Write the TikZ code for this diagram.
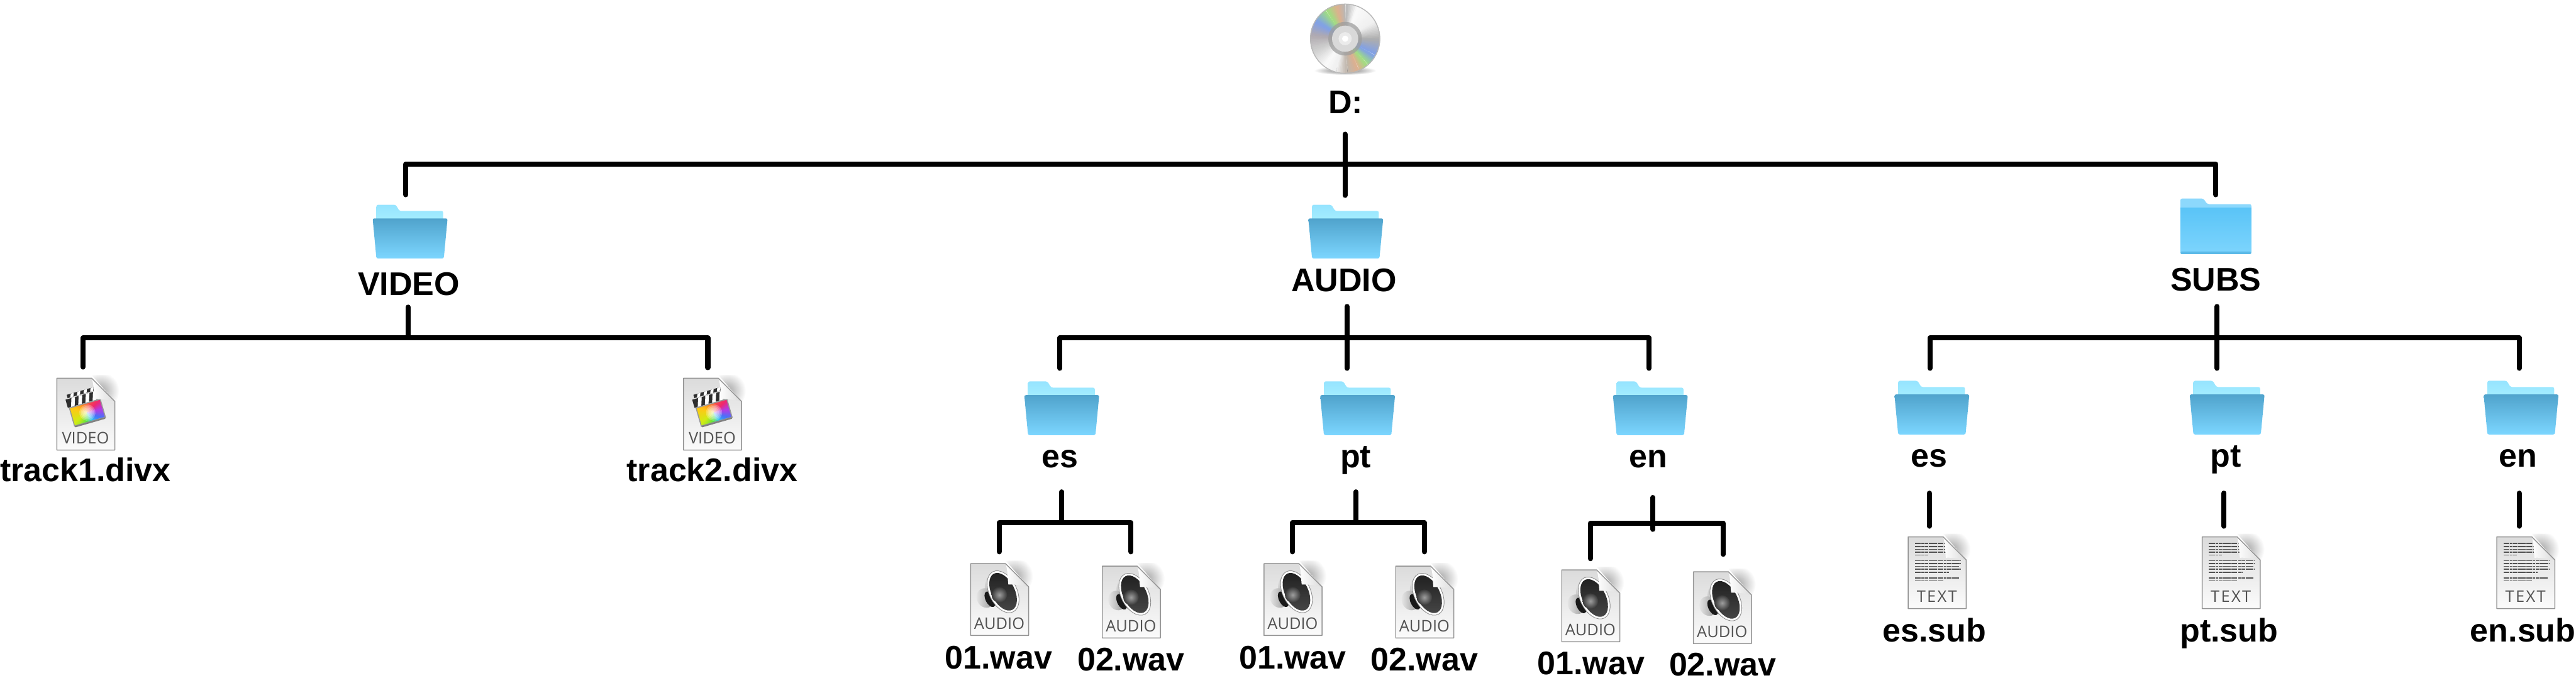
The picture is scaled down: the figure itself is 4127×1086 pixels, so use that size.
\documentclass[tikz,border=0pt]{standalone}
\usepackage{fontspec}
\setmainfont{Liberation Sans}
\newfontfamily\tagfont{Open Sans}
\definecolor{cdA}{gray}{.68}
\definecolor{cdB}{gray}{.94}
\definecolor{cdC}{gray}{.98}
\definecolor{cdD}{gray}{.72}
\definecolor{cdE}{RGB}{222,176,142}
\definecolor{cdF}{RGB}{160,222,130}
\definecolor{cdG}{RGB}{128,160,232}
\definecolor{cdH}{RGB}{176,170,176}
\definecolor{cdI}{gray}{.80}
\definecolor{cdJ}{RGB}{192,182,172}
\definecolor{rbA}{RGB}{178,60,230}
\definecolor{rbB}{RGB}{240,40,110}
\definecolor{rbC}{RGB}{252,105,40}
\definecolor{rbD}{RGB}{255,200,20}
\definecolor{rbE}{RGB}{210,235,20}
\definecolor{rbF}{RGB}{80,225,70}
\definecolor{rbG}{RGB}{50,195,240}
\definecolor{rbH}{RGB}{70,115,250}
\definecolor{pagetop}{gray}{.86}
\definecolor{pagebot}{gray}{.985}
\definecolor{pageline}{gray}{.58}
\definecolor{fbackA}{RGB}{150,228,255}
\definecolor{fbackB}{RGB}{165,238,255}
\definecolor{ffrontA}{RGB}{80,163,204}
\definecolor{ffrontB}{RGB}{124,214,255}
\definecolor{flatA}{RGB}{90,196,247}
\definecolor{flatB}{RGB}{124,212,253}
\definecolor{flatC}{RGB}{140,216,252}
\definecolor{flatD}{RGB}{92,186,232}
\tikzset{
  wire/.style={line width=2.3pt,line cap=round,line join=round,black},
  lbl/.style={anchor=base,inner sep=0pt,font=\bfseries\fontsize{14.9}{18}\selectfont},
  tagtext/.style={anchor=base,inner sep=0pt,text=black!68,font=\tagfont\fontsize{7.3}{8}\selectfont},
  iconbox/.style={inner sep=0pt,minimum width=1.1cm,minimum height=1.1cm},
  docline/.style={line width=.45pt,black!68,dash pattern=on 2.6pt off .3pt on 1.2pt off .3pt on 1.7pt off .3pt on 3.6pt off .3pt}
}
% conic colour sweep around the current origin
\newcommand{\sweep}[2]{%
  \foreach \aa/\ab/\ca/\cb in {#2}{%
    \pgfmathtruncatemacro\nn{(\ab-\aa)/3}%
    \foreach \ii in {1,...,\nn}{%
      \pgfmathsetmacro\sa{\aa+(\ii-1)*3}%
      \pgfmathsetmacro\sb{min(\sa+3.5,\ab)}%
      \pgfmathtruncatemacro\pct{100*(\ii-.5)/\nn}%
      \colorlet{sweepc}{\cb!\pct!\ca}%
      \filldraw[sweepc,line width=.25pt] (0,0) -- (\sa:#1) arc[start angle=\sa,end angle=\sb,radius=#1] -- cycle;
    }%
  }%
}
\newcommand{\clapper}{%
  \begin{scope}[shift={(49,55)},rotate=16]
    \begin{scope}
      \clip (-24,-36.5) rectangle (22,-31);
      \fill[black!82] (-24,-37) rectangle (22,-30);
      \foreach \s in {-17,-6,5,16}{\fill[white] (\s,-37) -- (\s+5,-37) -- (\s+2,-30) -- (\s-3,-30) -- cycle;}
    \end{scope}
    \begin{scope}
      \clip (-28,-29.5) rectangle (22,-16);
      \fill[black!82] (-28,-30) rectangle (22,-15);
      \foreach \s in {-18,-6,6,18}{\fill[white] (\s,-30) -- (\s+6,-30) -- (\s+1,-15) -- (\s-5,-15) -- cycle;}
    \end{scope}
    \begin{scope}
      \clip (-25.7,-15) rectangle (25.7,15);
      \sweep{.36cm}{0/30/rbA/rbB,30/90/rbB/rbC,90/150/rbC/rbD,150/205/rbD/rbE,205/255/rbE/rbF,255/290/rbF/rbG,290/325/rbG/rbH,325/360/rbH/rbA}
      \foreach \r in {.13,.105,.08,.055,.03}{\fill[white,opacity=.25] (0,0) circle[radius=\r cm];}
    \end{scope}
    \draw[black!40,line width=.45pt] (-25.7,-15) rectangle (25.7,15);
    \draw[black!50,line width=.7pt,line cap=round] (-24.5,16.2) -- (24.5,16.2);
  \end{scope}%
}
\newcommand{\speaker}{%
  \shade[top color=black!12,bottom color=black!35] (30,17) .. controls (23,28) and (21,38) .. (24,44) -- (40,68) .. controls (48,74) and (58,77) .. (67,75) -- cycle;
  \begin{scope}[shift={(24,55)},rotate=27]
    \shade[left color=black!8,right color=black!45] (0,0) ellipse[x radius=.14cm,y radius=.16cm];
  \end{scope}
  \begin{scope}[shift={(31,57)},rotate=27]
    \fill[black!90] (0,0) ellipse[x radius=.07cm,y radius=.135cm];
  \end{scope}
  \begin{scope}[shift={(52,45)},rotate=27]
    \fill[white] (0,0) ellipse[x radius=.22cm,y radius=.36cm];
    \draw[black!45,line width=.25pt] (0,0) ellipse[x radius=.22cm,y radius=.36cm];
    \shade[top color=black!88,bottom color=black!72] (0,0) ellipse[x radius=.185cm,y radius=.325cm];
  \end{scope}
  \shade[inner color=black!38,outer color=black!78] (46,50) circle[radius=.125cm];%
}
\newcommand{\doclines}{%
  \foreach \yy/\xe in {10.7/60,15.3/60,20/60,24.7/60,29.3/32,38.3/84,42.7/84,47.3/82,52/84,56.7/65,65.7/82,70.3/57}{%
    \draw[docline] (11,\yy) -- (\xe,\yy);
  }%
}
\def\pagepath{(0,0) -- (56,0) -- (93,37) -- (93,115) -- (0,115) -- cycle}
\newcommand{\fileicon}[5]{%
  \node[iconbox] (#1) at (#2+46,#3+57) {};
  \begin{scope}[shift={(#2,#3)}]
    \begin{scope}
      \clip (56,-5) -- (112,-5) -- (112,48) -- (93,37) -- cycle;
      \shade[inner color=black!36,outer color=white] (70,20) circle[radius=.30cm];
    \end{scope}
    \shade[top color=pagetop,bottom color=pagebot] \pagepath;
    #4
    \shade[left color=white,right color=black!14] (56,0) .. controls (60,12) and (59,24) .. (60.5,33.5) .. controls (72,33) and (84,35) .. (93,37) -- cycle;
    \draw[pageline,line width=.42pt,line join=round] \pagepath;
    \node[tagtext] (#1-tag) at (46,105) {#5};
  \end{scope}%
}
\newcommand{\openfolder}[3]{%
  \node[iconbox] (#1) at (#2+60,#3+43) {};
  \begin{scope}[shift={(#2,#3)}]
    \shade[top color=fbackA,bottom color=fbackB,rounded corners=.8pt] (6,26) -- (6,0) -- (37,0) -- (43,10) -- (113,10) -- (113,26) -- cycle;
    \shade[top color=ffrontA,bottom color=ffrontB,rounded corners=.7pt] (0,22) -- (120,22) -- (114,86) -- (6,86) -- cycle;
  \end{scope}%
}
\newcommand{\flatfolder}[3]{%
  \node[iconbox] (#1) at (#2+57,#3+44) {};
  \begin{scope}[shift={(#2,#3)}]
    \fill[flatC,rounded corners=.9pt] (0,20) -- (0,0) -- (37,0) -- (43,9) -- (114,9) -- (114,20) -- cycle;
    \shade[top color=flatA,bottom color=flatB] (0,15) rectangle (114,86);
    \fill[flatD,rounded corners=.5pt] (0,85) rectangle (114,89);
  \end{scope}%
}
\newcommand{\wirefork}[6]{% prefix, xL, xR, yBar, yEndL, yEndR
  \coordinate (#1-dl) at (#2,#5);
  \coordinate (#1-bl) at (#2,#4);
  \coordinate (#1-br) at (#3,#4);
  \coordinate (#1-dr) at (#3,#6);
  \draw[wire] (#1-dl) -- (#1-bl) -- (#1-br) -- (#1-dr);%
}
\newcommand{\wirestem}[4]{% prefix, x, yTop, yBot
  \coordinate (#1-t) at (#2,#3);
  \coordinate (#1-b) at (#2,#4);
  \draw[wire] (#1-t) -- (#1-b);%
}
\newcommand{\widetag}{\addfontfeature{LetterSpace=9}TEXT}
\begin{document}
\begin{tikzpicture}[x=0.01cm,y=-0.01cm]
\useasboundingbox (0,0) rectangle (4127,1086);
% disc
\node[iconbox] (disc) at (2155,62) {};
\begin{scope}[shift={(2155,62)}]
  \shade[inner color=black!55,outer color=white] (0,51) ellipse[x radius=.5cm,y radius=.07cm];
  \begin{scope}
    \clip (0,0) circle[radius=.56cm];
    \sweep{.58cm}{0/30/cdA/cdB,30/70/cdB/cdC,70/90/cdC/cdD,90/105/cdD/cdE,105/125/cdE/cdF,125/150/cdF/cdG,150/175/cdG/cdH,175/200/cdH/cdI,200/235/cdI/cdC,235/255/cdC/cdB,255/275/cdB/cdJ,275/295/cdJ/cdE,295/312/cdE/cdF,312/332/cdF/cdG,332/360/cdG/cdA}
  \end{scope}
  \draw[black!28,line width=.4pt] (0,0) circle[radius=.555cm];
  \fill[black!38,opacity=.75] (0,0) circle[radius=.27cm];
  \fill[black!15] (0,0) circle[radius=.21cm];
  \fill[black!8] (0,0) circle[radius=.105cm];
  \fill[white] (0,0) circle[radius=.05cm];
\end{scope}
\node[lbl] (root) at (2156,182) {D:};
% top level
\openfolder{fvideo}{597}{328}
\node[lbl] (video) at (655,473) {VIDEO};
\openfolder{faudio}{2096}{328}
\node[lbl] (audio) at (2153,467) {AUDIO};
\flatfolder{fsubs}{3493}{318}
\node[lbl] (subs) at (3550,466) {SUBS};
% video files
\fileicon{ftrackone}{91}{606}{\clapper}{VIDEO}
\node[lbl] (trackone) at (137,771) {track1.divx};
\fileicon{ftracktwo}{1095}{606}{\clapper}{VIDEO}
\node[lbl] (tracktwo) at (1141,771) {track2.divx};
% audio folders
\openfolder{faes}{1641}{611}
\node[lbl] (aes) at (1698,749) {es};
\openfolder{fapt}{2115}{611}
\node[lbl] (apt) at (2172,749) {pt};
\openfolder{faen}{2584}{611}
\node[lbl] (aen) at (2641,749) {en};
% audio files
\fileicon{fesa}{1555}{903}{\speaker}{AUDIO}
\node[lbl] (esa) at (1600,1072) {01.wav};
\fileicon{fesb}{1766}{907}{\speaker}{AUDIO}
\node[lbl] (esb) at (1812,1075) {02.wav};
\fileicon{fpta}{2025}{903}{\speaker}{AUDIO}
\node[lbl] (pta) at (2071,1072) {01.wav};
\fileicon{fptb}{2236}{907}{\speaker}{AUDIO}
\node[lbl] (ptb) at (2282,1075) {02.wav};
\fileicon{fena}{2502}{913}{\speaker}{AUDIO}
\node[lbl] (ena) at (2549,1081) {01.wav};
\fileicon{fenb}{2713}{916}{\speaker}{AUDIO}
\node[lbl] (enb) at (2760,1083) {02.wav};
% subtitle folders
\openfolder{fses}{3035}{610}
\node[lbl] (ses) at (3091,748) {es};
\openfolder{fspt}{3508}{610}
\node[lbl] (spt) at (3566,748) {pt};
\openfolder{fsen}{3979}{610}
\node[lbl] (sen) at (4034,748) {en};
% subtitle files
\fileicon{fsesf}{3057}{860}{\doclines}{\widetag}
\node[lbl] (sesf) at (3099,1028) {es.sub};
\fileicon{fsptf}{3528}{860}{\doclines}{\widetag}
\node[lbl] (sptf) at (3571,1028) {pt.sub};
\fileicon{fsenf}{4000}{860}{\doclines}{\widetag}
\node[lbl] (senf) at (4042,1028) {en.sub};
% connectors
\wirestem{sroot}{2155}{215}{313}
\wirefork{kroot}{650}{3550}{263}{312}{312}
\wirestem{svideo}{654}{492}{541}
\wirefork{kvideo}{133}{1134}{541}{588}{589}
\wirestem{saudio}{2158}{491}{590}
\wirefork{kaudio}{1698}{2642}{541}{590}{590}
\wirestem{saes}{1701}{788}{837}
\wirefork{kaes}{1601}{1812}{837}{884}{884}
\wirestem{sapt}{2172}{788}{837}
\wirefork{kapt}{2071}{2282}{837}{884}{884}
\wirefork{kaen}{2548}{2761}{838}{895}{888}
\wirestem{saen}{2648}{797}{848}
\wirestem{ssubs}{3552}{491}{590}
\wirefork{ksubs}{3092}{4036}{541}{590}{590}
\wirestem{sses}{3091}{790}{843}
\wirestem{sspt}{3563}{790}{843}
\wirestem{ssen}{4036}{790}{843}
\end{tikzpicture}
\end{document}
